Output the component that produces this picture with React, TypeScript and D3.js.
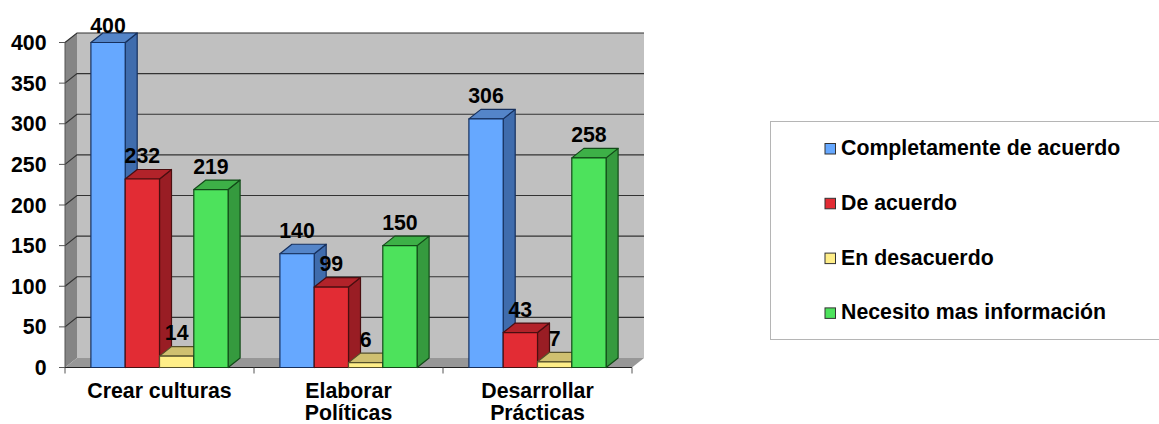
import React from "react";
import * as d3 from "d3";

const categories = [["Crear culturas"], ["Elaborar", "Políticas"], ["Desarrollar", "Prácticas"]];
const seriesNames = ["Completamente de acuerdo", "De acuerdo", "En desacuerdo", "Necesito mas información"];
const completamente = [400, 140, 306];
const deAcuerdo = [232, 99, 43];
const enDesacuerdo = [14, 6, 7];
const necesito = [219, 150, 258];
const seriesValues = [completamente, deAcuerdo, enDesacuerdo, necesito];
const yTicks = [0, 50, 100, 150, 200, 250, 300, 350, 400];

const palette = [
  { front: "#66A8FF", side: "#3F6CAD", top: "#5485C9", edge: "#16305E" },
  { front: "#E22C34", side: "#991D24", top: "#B2232A", edge: "#4A0E10" },
  { front: "#FFEE88", side: "#BFB265", top: "#CFC070", edge: "#55502A" },
  { front: "#4DE25C", side: "#359A3E", top: "#3DB047", edge: "#124A18" },
];

const FONT = "'Liberation Sans', Arial, sans-serif";
const depthX = 12;
const depthY = 9.5;
const plot = { left: 65, right: 632, top: 42.5, bottom: 367.5 };

const x = d3.scaleBand<number>().domain([0, 1, 2]).range([plot.left, plot.right]);
const y = d3.scaleLinear().domain([0, 400]).range([plot.bottom, plot.top]);
const inner = d3
  .scaleBand<number>()
  .domain([0, 1, 2, 3])
  .range([0, x.bandwidth()])
  .paddingOuter(0.755)
  .paddingInner(0);

const poly = (pts: [number, number][]) => pts.map((p) => p.join(",")).join(" ");

function Bar({ left, width, value, colors }: { left: number; width: number; value: number; colors: (typeof palette)[number] }) {
  const top = y(value);
  const bottom = y(0);
  const right = left + width;
  return (
    <g stroke={colors.edge} strokeWidth={1.2} strokeLinejoin="round">
      <polygon fill={colors.side} points={poly([[right, top], [right + depthX, top - depthY], [right + depthX, bottom - depthY], [right, bottom]])} />
      <polygon fill={colors.top} points={poly([[left, top], [left + depthX, top - depthY], [right + depthX, top - depthY], [right, top]])} />
      <rect x={left} y={top} width={width} height={bottom - top} fill={colors.front} />
    </g>
  );
}

export default function App() {
  const w = inner.bandwidth();
  const backLeft = plot.left + depthX;
  const backRight = plot.right + depthX;
  const tickFont = { fontFamily: FONT, fontWeight: 700, fill: "#000", fontSize: 21.3 } as const;
  return (
    <svg width={1159} height={424} style={{ position: "absolute", left: 0, top: 0, background: "#fff" }}>
      {/* Walls and floor of the 3D plot box */}
      <polygon fill="#C0C0C0" points={poly([[backLeft, plot.top - depthY], [backRight, plot.top - depthY], [backRight, plot.bottom - depthY], [backLeft, plot.bottom - depthY]])} />
      <polygon fill="#858585" points={poly([[plot.left, plot.top], [backLeft, plot.top - depthY], [backLeft, plot.bottom - depthY], [plot.left, plot.bottom]])} />
      <polygon fill="#979797" points={poly([[plot.left, plot.bottom], [backLeft, plot.bottom - depthY], [backRight, plot.bottom - depthY], [plot.right, plot.bottom]])} />

      {/* Gridlines run along the side wall and across the back wall */}
      {yTicks.filter((t) => t > 0).map((t) => (
        <polyline key={t} fill="none" stroke="#333" strokeWidth={1.2}
          points={poly([[plot.left, y(t)], [backLeft, y(t) - depthY], [backRight, y(t) - depthY]])} />
      ))}

      {/* Axes */}
      <g stroke="#555" strokeWidth={1} fill="none">
        <line x1={plot.left} x2={plot.left} y1={plot.top} y2={plot.bottom} />
        <line x1={plot.left} x2={plot.right} y1={plot.bottom} y2={plot.bottom} stroke="#222" />
        {yTicks.map((t) => (
          <line key={t} x1={plot.left - 6} x2={plot.left} y1={y(t)} y2={y(t)} />
        ))}
        {[0, 1, 2].map((i) => (
          <line key={i} x1={x(i)!} x2={x(i)!} y1={plot.bottom} y2={plot.bottom + 6} />
        ))}
        <line x1={plot.right} x2={plot.right} y1={plot.bottom} y2={plot.bottom + 6} />
      </g>

      {/* Bars, painted left to right so each front face hides its neighbour's side */}
      {categories.map((_, c) =>
        seriesValues.map((vals, s) => (
          <Bar key={`${c}-${s}`} left={x(c)! + inner(s)!} width={w} value={vals[c]} colors={palette[s]} />
        ))
      )}

      {/* Value labels */}
      {categories.map((_, c) =>
        seriesValues.map((vals, s) => (
          <text key={`${c}-${s}`} {...tickFont} textAnchor="middle"
            x={x(c)! + inner(s)! + w / 2} y={Math.max(33, y(vals[c]) - 16)}>
            {vals[c]}
          </text>
        ))
      )}

      {/* Value axis labels */}
      {yTicks.map((t) => (
        <text key={t} {...tickFont} textAnchor="end" x={46.5} y={y(t) + 7.5}>{t}</text>
      ))}

      {/* Category labels */}
      {categories.map((lines, c) => (
        <text key={c} {...tickFont} textAnchor="middle">
          {lines.map((line, i) => (
            <tspan key={line} x={x(c)! + x.bandwidth() / 2} y={398 + i * 22}>{line}</tspan>
          ))}
        </text>
      ))}

      {/* Legend */}
      <rect x={770.5} y={121.5} width={420} height={218} fill="#fff" stroke="#B5B5B5" strokeWidth={1} />
      {seriesNames.map((name, s) => {
        const rowY = 148.5 + s * 54.8;
        return (
          <g key={name}>
            <rect x={825} y={rowY - 5} width={10.5} height={10.5} fill={palette[s].front} stroke="#333" strokeWidth={1} />
            <text {...tickFont} x={841} y={rowY + 6.5}>{name}</text>
          </g>
        );
      })}
    </svg>
  );
}
